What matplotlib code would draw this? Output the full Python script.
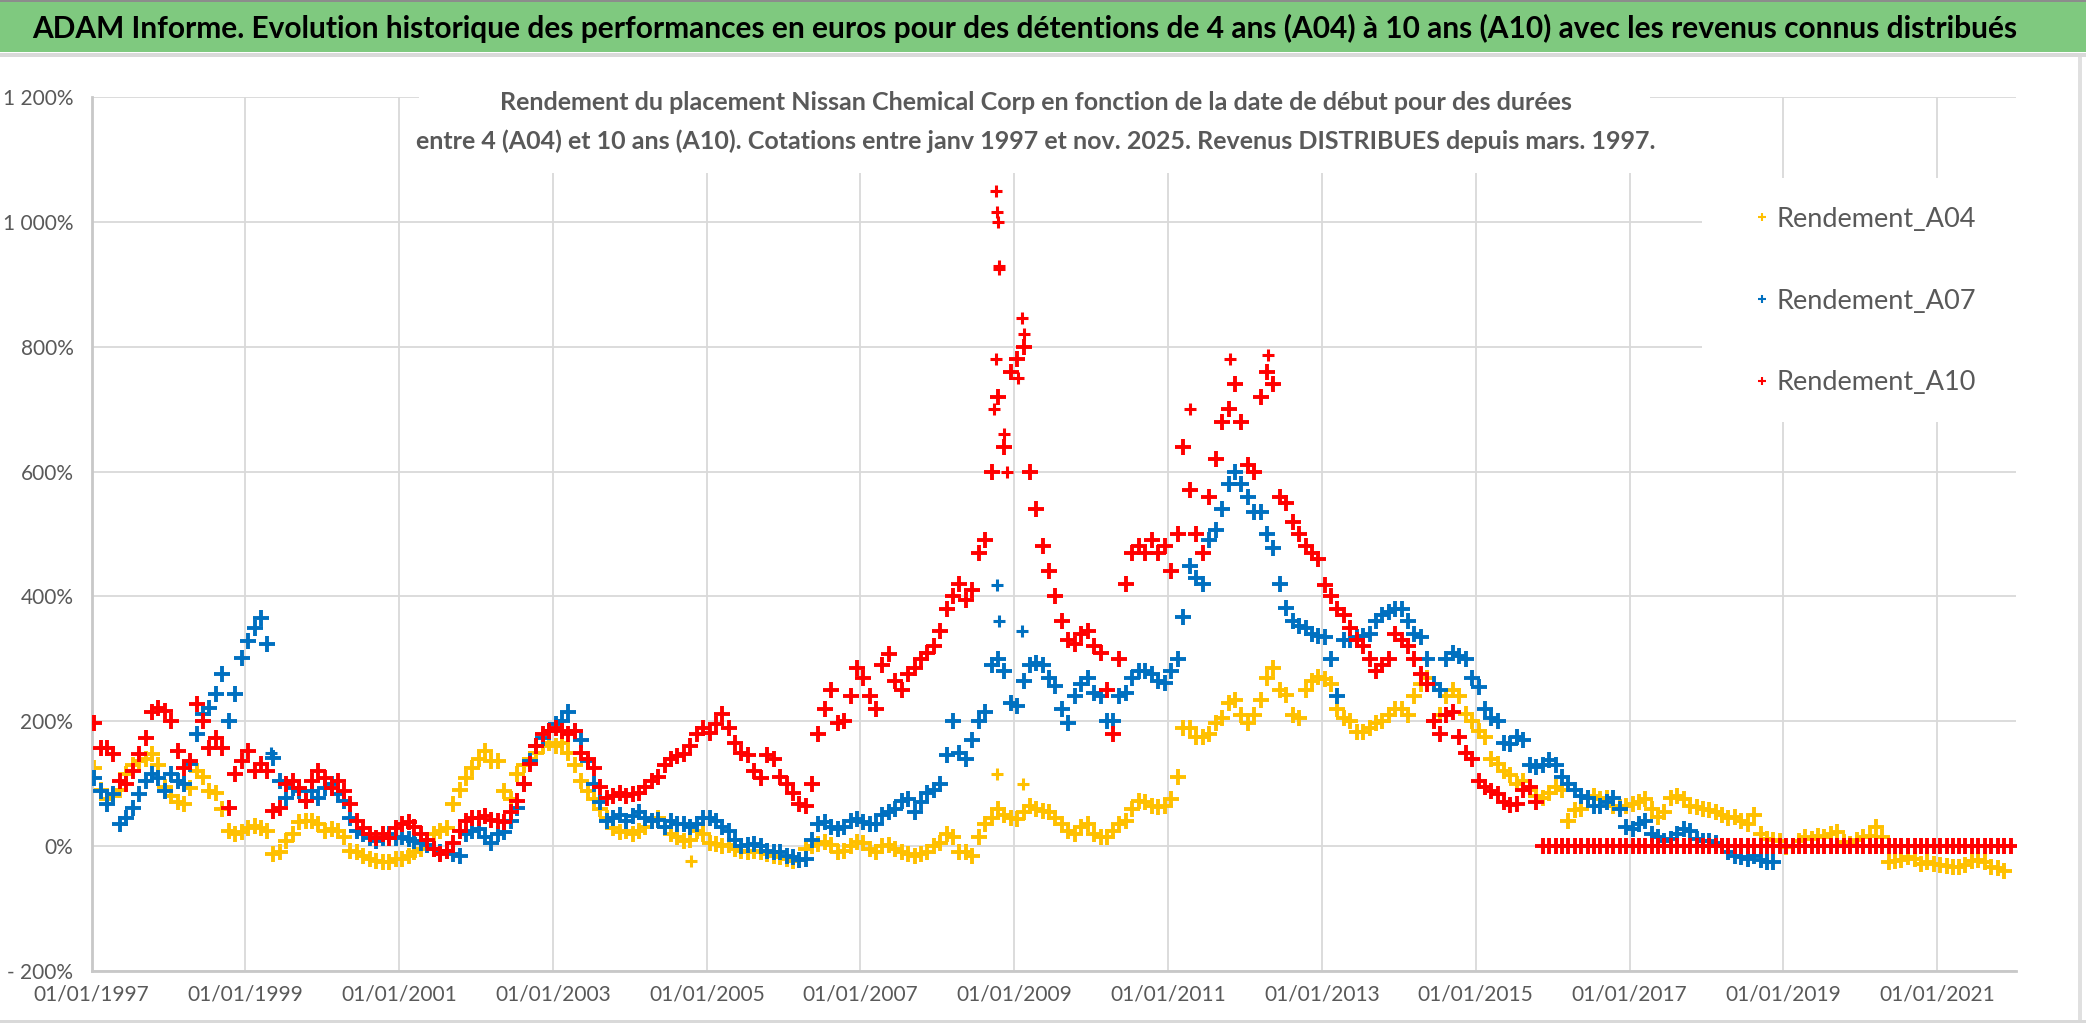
import matplotlib
matplotlib.use('Agg')
import matplotlib.pyplot as plt
import matplotlib.dates as mdates
from matplotlib.patches import Rectangle
from matplotlib.lines import Line2D
from matplotlib.ticker import FuncFormatter, MultipleLocator
import pandas as pd

plt.rcParams['font.family'] = ['Lato', 'DejaVu Sans']

TITLE = ("ADAM Informe. Evolution historique des performances en euros pour des détentions "
         "de 4 ans (A04) à 10 ans (A10) avec les revenus connus distribués")
SUBTITLE = ("Rendement du placement Nissan Chemical Corp en fonction de la date de début pour des durées\n"
            "entre 4 (A04) et 10 ans (A10). Cotations entre janv 1997 et nov. 2025. "
            "Revenus DISTRIBUES depuis mars. 1997.")
LABELS = ['Rendement_A04', 'Rendement_A07', 'Rendement_A10']
COLORS = ['#FFC000', '#0070C0', '#FF0000']

# monthly readings (%), starting January 1997
a04 = [
    125, 90, 75, 80, 90, 115, 130, 136, 140, 147, 130, 95,      # 1997
    80, 70, 67, 93, 120, 110, 88, 85, 60, 25, 19, 22,           # 1998
    29, 32, 29, 24, -13, -10, 8, 20, 38, 40, 40, 35,            # 1999
    24, 28, 24, 15, -8, -10, -15, -20, -24, -25, -26, -20,      # 2000
    -20, -15, -10, -5, 10, 19, 25, 29, 67, 90, 109, 125,        # 2001
    140, 152, 136, 136, 88, 75, 115, 130, 140, 150, 160, 165,   # 2002
    160, 165, 150, 130, 104, 88, 75, 60, 45, 29, 22, 25,        # 2003
    20, 25, 30, 40, 45, 30, 19, 15, 8, 10, 24, 20,              # 2004
    5, 3, 0, 2, -5, -8, -9, -8, -10, -12, -16, -18,             # 2005
    -20, -23, -22, -5, 0, 3, 6, 2, -9, -8, 0, 6,                # 2006
    5, -5, -9, 0, 2, -5, -9, -12, -15, -12, -10, 0,             # 2007
    5, 20, 15, -9, -10, -16, 15, 35, 45, 60, 50, 45,            # 2008
    43, 55, 65, 60, 57, 55, 45, 35, 25, 20, 30, 35,             # 2009
    20, 15, 15, 25, 35, 40, 60, 72, 70, 65, 62, 65,             # 2010
    75, 110, 190, 190, 175, 175, 180, 197, 205, 230, 234, 210,  # 2011
    197, 210, 234, 270, 286, 250, 242, 210, 205, 250, 264, 271, # 2012
    268, 260, 220, 205, 200, 183, 183, 190, 197, 200, 210, 220, # 2013
    220, 210, 240, 260, 270, 200, 210, 240, 250, 240, 212, 200, # 2014
    185, 175, 140, 132, 120, 114, 100, 105, 90, 80, 77, 85,     # 2015
    95, 90, 40, 58, 60, 77, 80, 75, 77, 65, 62, 65,             # 2016
    68, 71, 75, 60, 46, 55, 77, 80, 75, 65, 62, 60,             # 2017
    58, 55, 50, 45, 46, 40, 36, 50, 20, 12, 10, 8,              # 2018
    -2, 0, 8, 14, 12, 16, 14, 20, 22, 6, 4, 10,                 # 2019
    14, 16, 30, 14, -26, -24, -22, -18, -20, -28, -26, -28,     # 2020
    -30, -32, -34, -34, -30, -23, -22, -26, -34, -35, -40,      # 2021
]

a07 = [
    109, 88, 67, 83, 35, 45, 61, 83, 104, 115, 109, 88,         # 1997
    115, 104, 99, 131, 179, 211, 221, 243, 275, 200, 243, 301,  # 1998
    328, 350, 365, 323, 141, 104, 77, 93, 88, 72, 88, 77,       # 1999
    93, 99, 83, 72, 45, 24, 19, 13, 8, 13, 19, 13,              # 2000
    15, 12, 8, 5, 2, -5, -10, -8, -12, -15, 20, 25,             # 2001
    28, 15, 5, 19, 22, 40, 61, 100, 136, 160, 173, 185,         # 2002
    195, 200, 215, 185, 170, 136, 100, 70, 40, 45, 50, 40,      # 2003
    48, 55, 45, 40, 42, 30, 40, 35, 35, 30, 35, 45,             # 2004
    45, 40, 30, 25, 10, 0, 2, 3, 0, -8, -9, -10,                # 2005
    -15, -18, -22, -20, 10, 35, 38, 30, 28, 30, 40, 43,         # 2006
    38, 35, 35, 50, 55, 60, 72, 75, 55, 70, 85, 90,             # 2007
    100, 146, 200, 150, 140, 170, 200, 215, 290, 300, 280, 230, # 2008
    225, 264, 290, 293, 290, 270, 256, 220, 197, 240, 260, 270, # 2009
    245, 240, 200, 200, 240, 245, 270, 280, 280, 275, 265, 262, # 2010
    280, 300, 367, 448, 430, 420, 490, 507, 540, 580, 600, 580, # 2011
    560, 536, 536, 500, 477, 420, 382, 360, 352, 350, 340, 337, # 2012
    335, 300, 240, 330, 330, 335, 337, 340, 360, 370, 375, 380, # 2013
    380, 360, 340, 335, 300, 260, 250, 300, 310, 305, 300, 270, # 2014
    255, 220, 206, 200, 165, 163, 175, 170, 130, 126, 130, 138, # 2015
    130, 110, 100, 90, 80, 77, 65, 65, 70, 77, 60, 30,          # 2016
    28, 35, 40, 20, 15, 9, 12, 20, 28, 25, 12, 9,               # 2017
    8, 5, 0, -9, -15, -18, -20, -15, -22, -26, -25,             # 2018
]

a10 = [
    197, 157, 157, 147, 104, 99, 120, 147, 173, 215, 221, 216,  # 1997
    200, 152, 125, 136, 227, 200, 157, 173, 157, 61, 115, 136,  # 1998
    152, 120, 131, 120, 56, 61, 99, 104, 93, 72, 104, 120,      # 1999
    109, 93, 104, 88, 67, 40, 29, 19, 13, 19, 13, 29,           # 2000
    35, 38, 30, 20, 10, -5, -12, -8, 5, 25, 40, 45,             # 2001
    45, 48, 42, 40, 38, 55, 72, 100, 131, 160, 179, 185,        # 2002
    189, 185, 180, 185, 150, 140, 125, 95, 77, 80, 85, 80,      # 2003
    83, 85, 95, 104, 110, 130, 140, 145, 147, 160, 180, 189,    # 2004
    182, 195, 211, 190, 165, 150, 146, 120, 109, 146, 140, 110, # 2005
    100, 85, 68, 65, 100, 180, 220, 250, 197, 200, 240, 286,    # 2006
    270, 240, 220, 290, 308, 265, 250, 275, 286, 300, 310, 320, # 2007
    345, 380, 400, 420, 395, 410, 470, 490, 600, 720, 640, 760, # 2008
    780, 800, 600, 540, 480, 440, 400, 360, 330, 323, 340, 345, # 2009
    320, 310, 250, 180, 300, 420, 470, 480, 470, 490, 470, 480, # 2010
    440, 500, 640, 570, 500, 470, 560, 620, 680, 700, 740, 680, # 2011
    610, 600, 720, 760, 740, 560, 550, 520, 500, 480, 470, 460, # 2012
    418, 400, 380, 370, 350, 330, 320, 300, 280, 290, 300, 340, # 2013
    330, 320, 300, 275, 260, 200, 180, 210, 215, 175, 150, 140, # 2014
    105, 95, 88, 83, 70, 66, 68, 90, 95, 70,                    # 2015 (jan-oct)
] + [0] * 74  # nov 2015 -> dec 2021 shown at 0 %

# isolated points standing out of the bands
a04_extra_dates = ['2008-10-12', '2009-02-10', '2004-10-20']
a04_extra = [116, 100, -24]
a07_extra_dates = ['2008-10-10', '2008-10-20', '2009-02-08', '1999-05-05']
a07_extra = [418, 360, 345, 150]
a10_extra_dates = ['2008-10-08', '2008-10-11', '2008-10-14', '2008-10-18', '2008-10-22',
                   '2008-10-04', '2008-09-26', '2009-02-04', '2009-02-14', '2009-01-20',
                   '2008-11-12', '2008-11-26', '2011-04-15', '2011-10-20', '2012-04-20',
                   '2012-05-08']
a10_extra = [1049, 1015, 1000, 925, 930, 780, 700, 846, 820, 750, 660, 600, 700, 780, 787, 740]


def month_dates(n):
    return pd.date_range('1997-01-01', periods=n, freq='MS') + pd.Timedelta(days=14)


def pct_fmt(v, pos):
    s = f"{abs(int(round(v))):,}".replace(',', ' ') + '%'
    return ('- ' + s) if v < 0 else s


W, H = 2086, 1032
fig = plt.figure(figsize=(W / 100, H / 100), dpi=100)

# banner
fig.patches.append(Rectangle((0, 1 - 52 / H), 1, 52 / H, transform=fig.transFigure,
                             facecolor='#7FC97F', edgecolor='none'))
fig.patches.append(Rectangle((0, 1 - 57 / H), 1, 4 / H, transform=fig.transFigure,
                             facecolor='#D9D9D9', edgecolor='none'))
fig.patches.append(Rectangle((0, 1 - 2 / H), 1, 2 / H, transform=fig.transFigure,
                             facecolor='#8C8C8C', edgecolor='none'))
fig.patches.append(Rectangle((0, 9 / H), 1, 3 / H, transform=fig.transFigure,
                             facecolor='#D9D9D9', edgecolor='none'))
fig.patches.append(Rectangle((2078 / W, 12 / H), 4 / W, 1 - 69 / H, transform=fig.transFigure,
                             facecolor='#E0E0E0', edgecolor='none'))
fig.text(1025 / W, 1 - 28 / H, TITLE, ha='center', va='center', fontsize=21.5,
         fontweight='bold', color='black')

ax = fig.add_axes([91.5 / W, 1 - 971 / H, (2015.6 - 91.5) / W, 874 / H])

series = [
    (a04, a04_extra_dates, a04_extra),
    (a07, a07_extra_dates, a07_extra),
    (a10, a10_extra_dates, a10_extra),
]
for (vals, xd, xv), col, z in zip(series, COLORS, [2, 3, 4]):
    ax.plot(month_dates(len(vals)), vals, ls='none', marker='+', ms=11, mew=2.8,
            color=col, zorder=z)
    ax.plot(pd.to_datetime(xd), xv, ls='none', marker='+', ms=9, mew=2.2,
            color=col, zorder=z)

ax.set_xlim(pd.Timestamp('1997-01-01'), pd.Timestamp('2022-01-08'))
ax.set_ylim(-200, 1200)
ax.yaxis.set_major_locator(MultipleLocator(200))
ax.yaxis.set_major_formatter(FuncFormatter(pct_fmt))
ax.set_xticks(pd.date_range('1997-01-01', '2021-01-01', freq='24MS'))
ax.xaxis.set_major_formatter(mdates.DateFormatter('%d/%m/%Y'))

ax.set_axisbelow(True)
ax.grid(True, color='#D9D9D9', lw=1.3)
for s in ['top', 'right']:
    ax.spines[s].set_visible(False)
for s in ['left', 'bottom']:
    ax.spines[s].set_color('#C8C8C8')
    ax.spines[s].set_linewidth(2)
ax.tick_params(length=0, labelsize=15, labelcolor='#595959')
ax.tick_params(axis='y', pad=13)
ax.tick_params(axis='x', pad=10)

# white boxes behind subtitle and legend (hide the grid there)
ax.add_patch(Rectangle((419 / W, 1 - 173 / H), (1650 - 419) / W, 87 / H,
                       transform=fig.transFigure, facecolor='white', edgecolor='none',
                       zorder=1, clip_on=False))
ax.add_patch(Rectangle((1702 / W, 1 - 422 / H), (2030 - 1702) / W, 244 / H,
                       transform=fig.transFigure, facecolor='white', edgecolor='none',
                       zorder=1, clip_on=False))

fig.text(1036 / W, 1 - 122 / H, SUBTITLE, ha='center', va='center', fontsize=18,
         fontweight='bold', color='#595959', linespacing=1.75, zorder=5)

handles = [Line2D([], [], ls='none', marker='+', ms=6, mew=1.5, color=c) for c in COLORS]
leg = ax.legend(handles, LABELS, loc='center left', bbox_to_anchor=(1753.7 / W, 1 - 301 / H),
                bbox_transform=fig.transFigure, frameon=False, fontsize=19.5,
                handlelength=0.6, handletextpad=0.24, labelspacing=2.1,
                borderpad=0, borderaxespad=0)
for t in leg.get_texts():
    t.set_color('#595959')

fig.savefig('out.png', dpi=100, facecolor='white')
